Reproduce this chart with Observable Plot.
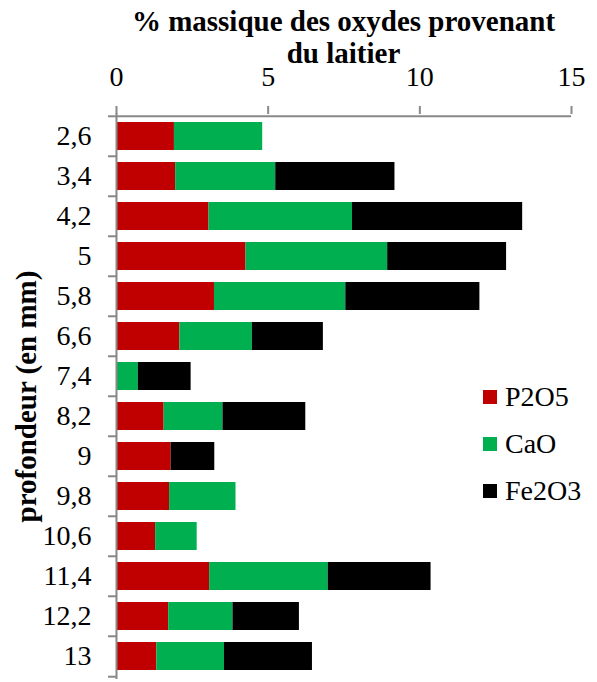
<!DOCTYPE html>
<html>
<head>
<meta charset="utf-8">
<script src="https://cdn.jsdelivr.net/npm/d3@7"></script>
<script src="https://cdn.jsdelivr.net/npm/@observablehq/plot@0.6"></script>
<style>
  html, body { margin: 0; padding: 0; background: #fff; }
  #wrap { position: relative; width: 597px; height: 682px; font-family: "Liberation Serif", "Times New Roman", Times, Tinos, "Nimbus Roman", "Noto Serif", "DejaVu Serif", serif; color: #000; }
  #wrap svg { position: absolute; left: 0; top: 0; }
  .title { position: absolute; left: 116px; width: 455px; top: 5px; text-align: center; font-weight: bold; font-size: 29px; line-height: 32px; }
  .leg { position: absolute; left: 483px; height: 28px; display: flex; align-items: center; font-size: 28px; line-height: 28px; }
  .leg span.sw { display: inline-block; width: 14px; height: 14px; margin-right: 8px; }
</style>
</head>
<body>
<div id="wrap"></div>
<script>
const categories = ["2,6","3,4","4,2","5","5,8","6,6","7,4","8,2","9","9,8","10,6","11,4","12,2","13"];
const p2o5  = [1.91, 1.95, 3.05, 4.27, 3.23, 2.09, 0,    1.57, 1.80, 1.75, 1.29, 3.07, 1.72, 1.33];
const cao   = [2.91, 3.30, 4.73, 4.67, 4.33, 2.39, 0.72, 1.94, 0,    2.19, 1.37, 3.91, 2.12, 2.23];
const fe2o3 = [0,    3.93, 5.61, 3.92, 4.42, 2.34, 1.74, 2.73, 1.44, 0,    0,    3.39, 2.19, 2.90];
const oxides = ["P2O5", "CaO", "Fe2O3"];
const colors = ["#C00000", "#00B050", "#000000"];
const xTicks = [0, 5, 10, 15];
const titleLines = ["% massique des oxydes provenant", "du laitier"];
const yLabel = "profondeur (en mm)";

const series = [p2o5, cao, fe2o3];
const rows = [];
series.forEach((vals, s) => vals.forEach((v, i) => rows.push({depth: categories[i], oxide: oxides[s], value: v})));

const W = 597, H = 682;
const mTop = 113, mBottom = 3, mLeft = 116, mRight = 26;
const step = (H - mTop - mBottom) / categories.length;
const pxPerUnit = (W - mLeft - mRight) / (xTicks[xTicks.length - 1] - xTicks[0]);
const tickLenUnits = 8 / pxPerUnit;
const axisGray = "#888888";
const serif = "'Liberation Serif', 'Times New Roman', Times, Tinos, 'Nimbus Roman', 'Noto Serif', 'DejaVu Serif', serif";

const plot = Plot.plot({
  width: W, height: H,
  marginTop: mTop, marginBottom: mBottom, marginLeft: mLeft, marginRight: mRight,
  style: {fontFamily: serif, fontSize: "28px", color: "#000", background: "transparent"},
  x: {domain: [xTicks[0], xTicks[xTicks.length - 1]], axis: null},
  y: {domain: categories, paddingInner: 0.29, paddingOuter: 0.145, axis: null},
  color: {domain: oxides, range: colors},
  marks: [
    Plot.barX(rows, Plot.stackX({y: "depth", x: "value", fill: "oxide"})),
    Plot.axisX({anchor: "top", ticks: xTicks, tickFormat: d => String(d), tickSize: 8, tickPadding: 20, stroke: axisGray, strokeWidth: 2, fill: "#000", fontSize: 28, fontFamily: serif, label: null}),
    Plot.axisY({anchor: "left", tickSize: 0, tickPadding: 25, fill: "#000", fontSize: 28, fontFamily: serif, label: null}),
    Plot.ruleY([categories[0]], {y: d => d, dy: -step / 2, x1: xTicks[0], x2: xTicks[xTicks.length - 1], stroke: axisGray, strokeWidth: 2}),
    Plot.ruleY(categories, {y: d => d, dy: -step / 2, x1: -tickLenUnits, x2: 0, stroke: axisGray, strokeWidth: 2}),
    Plot.ruleY([categories[categories.length - 1]], {y: d => d, dy: step / 2, x1: -tickLenUnits, x2: 0, stroke: axisGray, strokeWidth: 2}),
    Plot.ruleX([0], {stroke: axisGray, strokeWidth: 2}),
    Plot.text([yLabel], {frameAnchor: "left", textAnchor: "middle", rotate: -90, dx: -90, text: d => d, fontWeight: "bold", fontSize: 29, fontFamily: serif, fill: "#000"})
  ]
});

const wrap = document.getElementById("wrap");
wrap.appendChild(plot);

const t = document.createElement("div");
t.className = "title";
t.innerHTML = titleLines.join("<br>");
wrap.appendChild(t);

const legTops = [397, 444, 491];
oxides.forEach((name, i) => {
  const d = document.createElement("div");
  d.className = "leg";
  d.style.top = (legTops[i] - 14) + "px";
  const sw = document.createElement("span");
  sw.className = "sw";
  sw.style.background = colors[i];
  d.appendChild(sw);
  d.appendChild(document.createTextNode(name));
  wrap.appendChild(d);
});
</script>
</body>
</html>
